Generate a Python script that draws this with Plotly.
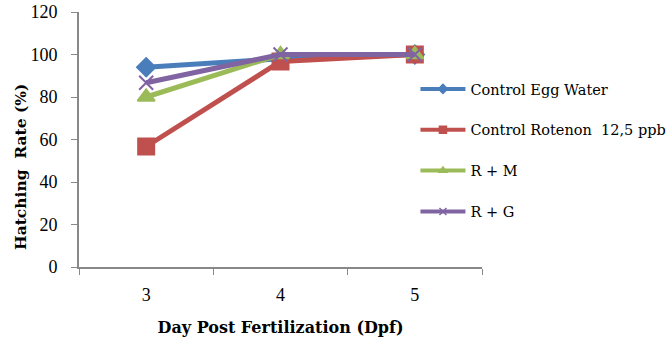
import plotly.graph_objects as go

days = ["3", "4", "5"]
series_names = ["Control Egg Water", "Control Rotenon  12,5 ppb", "R + M", "R + G"]
egg_water = [94, 98, 100]
rotenon = [56.7, 96.7, 100]
r_m = [80, 100, 100]
r_g = [86.7, 100, 100]
y_ticks = [0, 20, 40, 60, 80, 100, 120]

values = [egg_water, rotenon, r_m, r_g]
colors = ["#4A7EBB", "#C0504D", "#9BBB59", "#8064A2"]
symbols = ["diamond", "square", "triangle-up", "x-thin"]
sizes = [14, 16, 15, 14]

fig = go.Figure()
for name, vals, c, s, sz in zip(series_names, values, colors, symbols, sizes):
    fig.add_trace(go.Scatter(
        x=days, y=vals, name=name, mode="lines+markers",
        line=dict(color=c, width=5),
        marker=dict(symbol=s, size=sz, color=c, line=dict(color=c, width=2)),
        showlegend=False,
    ))
# legend entries (small markers, like the reference legend)
for name, c, s in zip(series_names, colors, symbols):
    fig.add_trace(go.Scatter(
        x=[None], y=[None], name=name, mode="lines+markers",
        line=dict(color=c, width=4),
        marker=dict(symbol=s, size=7, color=c, line=dict(color=c, width=1.5)),
        legendgroup=name, showlegend=True,
    ))

serif = "Liberation Serif"
wide = "DejaVu Serif"
fig.update_layout(
    width=669, height=341,
    margin=dict(l=79, r=187, t=12, b=74, autoexpand=False),
    paper_bgcolor="white", plot_bgcolor="white",
    font=dict(family=serif, color="black"),
    showlegend=True,
    legend=dict(xref="container", yref="container", x=0.621, y=0.786,
                xanchor="left", yanchor="top",
                font=dict(family=wide, size=14.5), tracegroupgap=19,
                itemwidth=45, bgcolor="rgba(0,0,0,0)"),
    xaxis=dict(type="category", range=[-0.5, 2.5], tickson="boundaries",
               ticks="outside", ticklen=6, automargin=False,
               tickcolor="#888", showline=True, linecolor="#888", linewidth=2,
               showgrid=False, tickfont=dict(size=18, family=serif),
               ticklabelstandoff=10,
               title=dict(text="<b>Day Post Fertilization (Dpf)</b>",
                          font=dict(size=16, family=wide), standoff=18)),
    yaxis=dict(range=[0, 120], tickvals=y_ticks, ticks="outside", ticklen=6,
               automargin=False,
               tickcolor="#888", showline=True, linecolor="#888", linewidth=2,
               showgrid=False, zeroline=False, tickfont=dict(size=18, family=serif),
               ticklabelstandoff=10),
    annotations=[dict(text="<b>Hatching  Rate (%)</b>", textangle=-90,
                      xref="paper", yref="paper", x=(20 - 79) / 403, y=(267 - 167) / 255,
                      xanchor="center", yanchor="middle", showarrow=False,
                      font=dict(size=15.5, family=wide, color="black"))],
)
fig.write_html("out.html")
